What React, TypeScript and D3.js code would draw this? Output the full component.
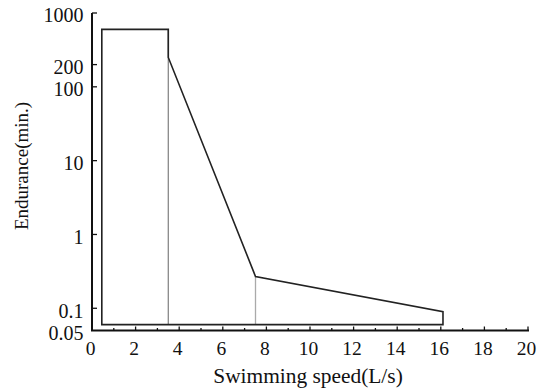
import React from "react";
import * as d3 from "d3";

const speeds = [0.45, 3.5, 3.5, 7.5, 16.1, 16.1, 0.45];
const endurance = [600, 600, 250, 0.27, 0.09, 0.06, 0.06];
const dividerSpeeds = [3.5, 7.5];
const dividerTops = [600, 0.27];
const yTicks = [1000, 200, 100, 10, 1, 0.1, 0.05];
const yTickLabels = ["1000", "200", "100", "10", "1", "0.1", "0.05"];
const xMajor = [0, 2, 4, 6, 8, 10, 12, 14, 16, 18, 20];
const xMinor = [1, 3, 5, 7, 9, 11, 13, 15, 17, 19];
const xTitle = "Swimming speed(L/s)";
const yTitle = "Endurance(min.)";

export default function App() {
  const W = 541, H = 388;
  const x = d3.scaleLinear().domain([0, 20]).range([92, 528]);
  const y = d3.scaleLog().domain([0.05, 1000]).range([330.5, 13]);
  const pts: [number, number][] = speeds.map((s, i) => [x(s), y(endurance[i])]);
  const line = d3.line();
  const font = "Liberation Serif, Times New Roman, serif";
  return (
    <svg width={W} height={H} style={{ position: "absolute", left: 0, top: 0, background: "#fff" }}>
      {dividerSpeeds.map((s, i) => (
        <line key={i} x1={x(s)} x2={x(s)} y1={y(dividerTops[i])} y2={y(0.06)} stroke={i === 0 ? "#888" : "#aaa"} strokeWidth={1.3} />
      ))}
      <path d={line([...pts]) + "Z"} fill="none" stroke="#222" strokeWidth={1.6} />
      <line x1={x(0)} x2={x(0)} y1={13} y2={331} stroke="#111" strokeWidth={2} />
      <line x1={x(0) - 1} x2={x(20) + 1} y1={y(0.05)} y2={y(0.05)} stroke="#111" strokeWidth={2} />
      {yTicks.map((t, i) => (
        <g key={i}>
          {t !== 0.05 && <line x1={x(0)} x2={x(0) + 5} y1={y(t)} y2={y(t)} stroke="#111" strokeWidth={1.3} />}
          <text x={83.5} y={y(t)} dy="0.47em" textAnchor="end" fontFamily={font} fontSize={20} fill="#111">{yTickLabels[i]}</text>
        </g>
      ))}
      {xMajor.map((t) => (
        <g key={t}>
          <line x1={x(t)} x2={x(t)} y1={y(0.05)} y2={y(0.05) - 4} stroke="#111" strokeWidth={1.3} />
          <text x={x(t) - 1.5} y={355} textAnchor="middle" fontFamily={font} fontSize={19.5} fill="#111">{t}</text>
        </g>
      ))}
      {xMinor.map((t) => (
        <line key={t} x1={x(t)} x2={x(t)} y1={y(0.05)} y2={y(0.05) - 2.5} stroke="#111" strokeWidth={1.3} />
      ))}
      <text transform="translate(308,383) scale(1.07,1)" textAnchor="middle" fontFamily={font} fontSize={20} fill="#111">{xTitle}</text>
      <text transform="translate(28,166) rotate(-90)" textAnchor="middle" fontFamily={font} fontSize={19} fill="#111">{yTitle}</text>
    </svg>
  );
}
